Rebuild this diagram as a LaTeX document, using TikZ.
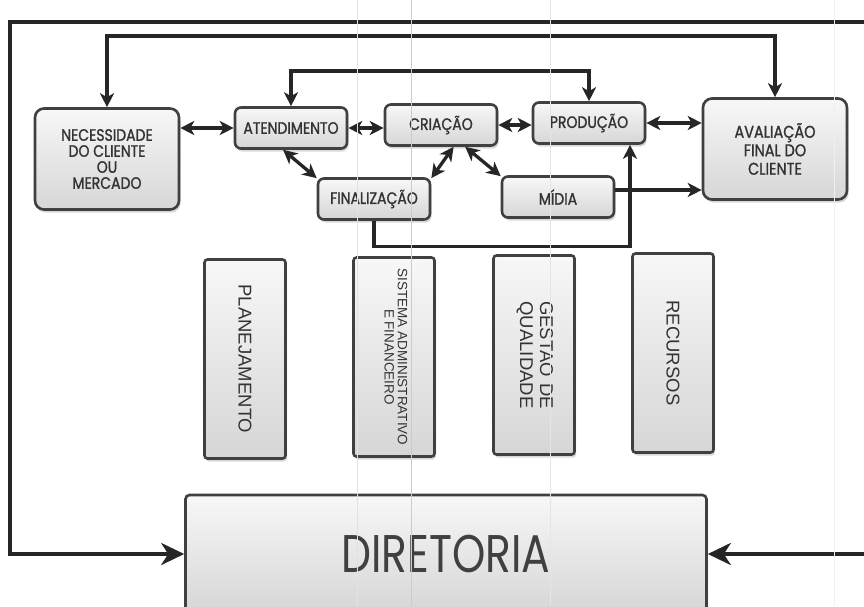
\documentclass[tikz,border=0pt]{standalone}
\usepackage{fontspec}
\usepackage{graphicx}
\usetikzlibrary{arrows.meta,shadows,calc}
\setmainfont{Liberation Sans}
\newfontfamily\boxfont[FakeStretch=0.85,FakeBold=1.2]{Poppins}
\newfontfamily\dirfont[FakeStretch=0.8]{Poppins}

\begin{document}
\begin{tikzpicture}[x=1pt,y=-1pt,
    >={Stealth[length=14pt,width=14pt,inset=4pt]},
    box/.style={draw=gray!50!black, line width=2.6pt, top color=gray!6, bottom color=gray!32,
      text=black!80, align=center, inner sep=0pt,
      drop shadow={shadow xshift=1.5pt, shadow yshift=-3pt, opacity=0.3}},
    topbox/.style={box, rounded corners=6pt, minimum width=112pt, minimum height=41pt,
      font=\boxfont\fontsize{16.5}{17}\selectfont},
    bigbox/.style={box, rounded corners=9pt, minimum width=144pt, minimum height=101pt,
      font=\boxfont\fontsize{16.5}{16}\selectfont},
    sidebox/.style={box, rounded corners=3pt, minimum width=81pt, minimum height=199pt,
      font=\fontsize{18.5}{20}\selectfont},
    link/.style={line width=3.3pt, draw=black!85},
    frame/.style={line width=4.2pt, draw=black!85,
      >={Stealth[length=23pt,width=22pt,inset=7pt]}}]
  \useasboundingbox (0,0) rectangle (864,606);
  \fill[white] (0,0) rectangle (864,606);

  % flow across the top
  \node[bigbox] (nec)  at (107,159) {NECESSIDADE\\DO CLIENTE\\OU\\MERCADO};
  \node[topbox] (aten) at (291,128) {ATENDIMENTO};
  \node[topbox] (cria) at (441,125) {CRIAÇÃO};
  \node[topbox] (prod) at (589,123) {PRODUÇÃO};
  \node[bigbox, font=\boxfont\fontsize{17}{18.5}\selectfont] (aval) at (775,149)
    {AVALIAÇÃO\\FINAL DO\\CLIENTE};
  \node[topbox] (fin)  at (374,199) {FINALIZAÇÃO};
  \node[topbox] (midia) at (558,197) {MÍDIA};

  % support areas
  \node[sidebox] (plan) at (245,359) {\rotatebox{-90}{PLANEJAMENTO}};
  \node[sidebox] (sis)  at (394,357) {\rotatebox{-90}{\fontsize{13.5}{13}\selectfont
      \begin{tabular}{@{}c@{}}SISTEMA ADMINISTRATIVO\\E FINANCEIRO\end{tabular}}};
  \node[sidebox] (ges)  at (534,355) {\rotatebox{-90}{\begin{tabular}{@{}c@{}}%
      \makebox[108pt][s]{GESTAO\hfill DE}\\QUALIDADE\end{tabular}}};
  \node[sidebox] (rec)  at (673,353) {\rotatebox{-90}{RECURSOS}};

  \node[box, rounded corners=4pt, minimum width=521pt, minimum height=118pt,
    font=\dirfont\fontsize{53}{54}\selectfont, text=black!75] (dir) at (446,554) {DIRETORIA};

  \coordinate (lt) at (10,22);
  \coordinate (rt) at (885,22);
  \coordinate (it) at (0,36);
  \coordinate (at) at (0,71);
  \coordinate (mo) at ($(midia.east)+(0,-7)$);

  \draw[frame,<->] (dir.west) -- (dir.west -| lt) -- (lt) -- (rt) -- (rt |- dir.east) -- (dir.east);

  \draw[link,<->] (nec.north) -- (nec.north |- it) -- (aval.north |- it) -- (aval.north);
  \draw[link,<->] (aten.north) -- (aten.north |- at) -- (prod.north |- at) -- (prod.north);
  \draw[link,<->] (aten.west -| nec.east) -- (aten.west);
  \draw[link,<->] (aten.east) -- (aten.east -| cria.west);
  \draw[link,<->] (cria.east) -- (cria.east -| prod.west);
  \draw[link,<->] (prod.east) -- (prod.east -| aval.west);
  \draw[link,<->] (aten.250) -- (fin.160);
  \draw[link,<->] (cria.300) -- (fin.20);
  \draw[link,<->] (cria.318) -- (midia.160);
  \draw[link,->] (mo) -- (mo -| aval.west);
  \draw[link,->] (fin.south) -- ++(0,26) -| (prod.332);

  % scanner streaks
  \foreach \sx/\sc in {357/red!10!gray!22, 411/gray!40, 550/gray!20, 834/gray!12}
    \draw[\sc, line width=0.9pt] (\sx,0) -- (\sx,606);
\end{tikzpicture}
\end{document}
